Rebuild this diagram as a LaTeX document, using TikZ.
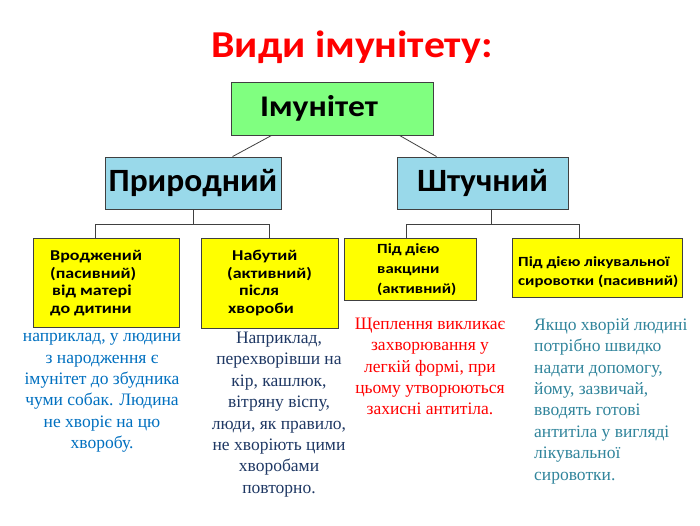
\documentclass[tikz,border=0pt]{standalone}
\usepackage{fontspec}
\setmainfont{Carlito}
\newfontfamily\serifru{Liberation Serif}
\newfontfamily\titlefont[FakeStretch=1.1]{Carlito}
\newfontfamily\imunfont[FakeStretch=1.12]{Carlito}
\newfontfamily\midfont[FakeStretch=1.03]{Carlito}
\newfontfamily\lowfont[FakeStretch=1.2]{Carlito}
\usetikzlibrary{calc}
\definecolor{titlered}{HTML}{FF0000}
\definecolor{boxgreen}{HTML}{80FF80}
\definecolor{boxblue}{HTML}{99D9EA}
\definecolor{boxyellow}{HTML}{FFFF00}
\definecolor{edgegray}{HTML}{404040}
\definecolor{txtblue}{HTML}{0070C0}
\definecolor{txtnavy}{HTML}{1F3864}
\definecolor{txtred}{HTML}{FF0000}
\definecolor{txtteal}{HTML}{31859C}
\tikzset{
  box/.style={draw=edgegray, line width=0.9pt, inner sep=0pt},
  topbox/.style={box, fill=boxgreen},
  midbox/.style={box, fill=boxblue},
  lowbox/.style={box, fill=boxyellow},
  boxtext/.style={inner sep=0pt, font=\lowfont\fontsize{15}{17.7}\selectfont\bfseries, align=left, text=black},
  note/.style={inner sep=0pt, font=\serifru\fontsize{17.5}{21.4}\selectfont},
  link/.style={draw=edgegray, line width=0.8pt}
}
\begin{document}
\begin{tikzpicture}[x=1pt,y=-1pt]
\useasboundingbox[fill=white] (0,0) rectangle (700,525);
% title
\node[inner sep=0pt, anchor=base, text=titlered, font=\titlefont\fontsize{38}{40}\selectfont\bfseries] (title) at (352,57) {Види імунітету:};
% boxes
\node[topbox, minimum width=202pt, minimum height=53pt, font=\imunfont\fontsize{30}{32}\selectfont\bfseries] (imun) at (332,108.5) {Імунітет\kern26pt};
\node[midbox, minimum width=176pt, minimum height=52pt, font=\midfont\fontsize{32.5}{34}\selectfont\bfseries] (prir) at (193,183) {Природний};
\node[midbox, minimum width=171pt, minimum height=52pt, font=\midfont\fontsize{32.5}{34}\selectfont\bfseries] (shtu) at (482.5,183) {Штучний};
\node[lowbox, minimum width=146pt, minimum height=89pt] (b1) at (106,282.5) {};
\node[lowbox, minimum width=137pt, minimum height=90pt] (b2) at (269.5,283) {};
\node[lowbox, minimum width=132pt, minimum height=62pt] (b3) at (410,269) {};
\node[lowbox, minimum width=170pt, minimum height=59pt] (b4) at (597,267.5) {};
% box texts
\node[boxtext, anchor=west] (t1) at (50,283) {Вроджений\\(пасивний)\\\hspace{2pt}від матері\\до дитини};
\node[boxtext, anchor=west] (t2) at (227,283) {\hspace{5pt}Набутий\\(активний)\\\hspace{12pt}після\\\hspace{1pt}хвороби};
\node[boxtext, anchor=west, font=\lowfont\fontsize{14}{20}\selectfont\bfseries] (t3) at (377,269.5) {Під дією\\вакцини\\(активний)};
\node[boxtext, anchor=west, font=\lowfont\fontsize{14}{19}\selectfont\bfseries] (t4) at (518,272) {Під дією лікувальної\\сировотки (пасивний)};
% connectors
\draw[link] ($(imun.south west)+(41,0)$) -- ($(prir.north west)+(128,0)$);
\draw[link] ($(imun.south west)+(169,0)$) -- ($(shtu.north west)+(40,0)$);
\draw[link] (prir.south) -- ++(0,15) coordinate (pj);
\draw[link] ($(b1.north west)+(63,0)$) |- (pj) -| (b2.north);
\draw[link] ($(shtu.south west)+(95,0)$) -- ++(0,15) coordinate (sj);
\draw[link] ($(b3.north west)+(63,0)$) |- (sj) -| ($(b4.north west)+(68,0)$);
% notes
\node[note, text=txtblue, align=center] (n1) at (102,393) {наприклад, у людини\\з народження є\\імунітет до збудника\\чуми собак. Людина\\не хворіє на цю\\хворобу.};
\node[note, text=txtnavy, align=center] (n2) at (279,414.5) {Наприклад,\\перехворівши на\\кір, кашлюк,\\вітряну віспу,\\люди, як правило,\\не хворіють цими\\хворобами\\повторно.};
\node[note, text=txtred, align=center] (n3) at (430,366.5) {Щеплення викликає\\захворювання у\\легкій формі, при\\цьому утворюються\\захисні антитіла.};
\node[note, text=txtteal, align=left, anchor=west] (n4) at (534,401) {Якщо хворій людині\\потрібно швидко\\надати допомогу,\\йому, зазвичай,\\вводять готові\\антитіла у вигляді\\лікувальної\\сировотки.};
\end{tikzpicture}
\end{document}
